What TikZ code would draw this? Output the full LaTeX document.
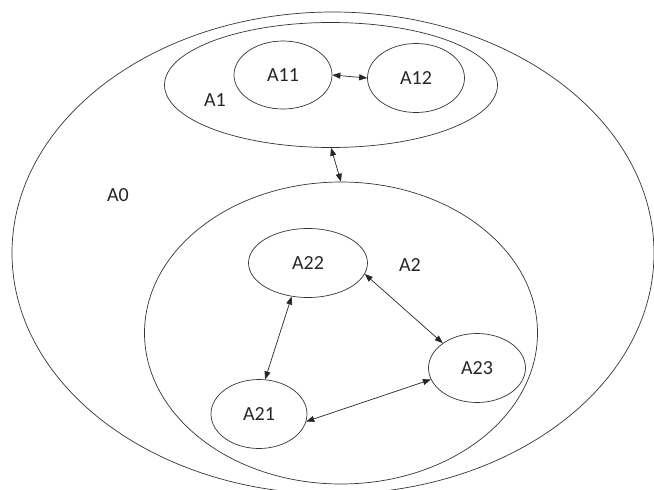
\documentclass[tikz,border=0pt]{standalone}
\usepackage{fontspec}
\setmainfont{Carlito}
\usetikzlibrary{shapes.geometric}
\usetikzlibrary{arrows.meta}

\tikzset{
  region/.style={draw=black!80, line width=0.7pt, ellipse, inner sep=0pt},
  link/.style={{Triangle[length=8pt,width=6pt]}-{Triangle[length=8pt,width=6pt]}, draw=black!85, line width=0.7pt},
  tag/.style={font=\fontsize{20}{24}\selectfont, text=black!85}
}

\begin{document}
\begin{tikzpicture}[x=1pt, y=-1pt]
    \useasboundingbox (0,0) rectangle (654,490);

    \node[region, minimum width=642pt, minimum height=482pt] (a0) at (333,253) {};
    \node[region, minimum width=333pt, minimum height=125pt] (a1) at (331,85) {};
    \node[region, minimum width=393pt, minimum height=302pt] (a2) at (341,333) {};

    \node[region, tag, minimum width=98pt, minimum height=68pt] (a11) at (283,75) {A11};
    \node[region, tag, minimum width=97pt, minimum height=69pt] (a12) at (416,78) {A12};
    \node[region, tag, minimum width=119pt, minimum height=69pt] (a22) at (308,263) {A22};
    \node[region, tag, minimum width=97pt, minimum height=69pt] (a23) at (477,368) {A23};
    \node[region, tag, minimum width=96pt, minimum height=69pt] (a21) at (259,414) {A21};

    \node[tag] (l0) at (118,195) {A0};
    \node[tag] (l1) at (215,100) {A1};
    \node[tag] (l2) at (410,265) {A2};

    \draw[link] (a11.east) -- (a12.west);
    \draw[link] (a1.south) -- (a2.north);
    \draw[link] (a22.-11) -- (a23.144);
    \draw[link] (a22.-116) -- (a21.80);
    \draw[link] (a21.-9) -- (a23.-166);

\end{tikzpicture}
\end{document}
